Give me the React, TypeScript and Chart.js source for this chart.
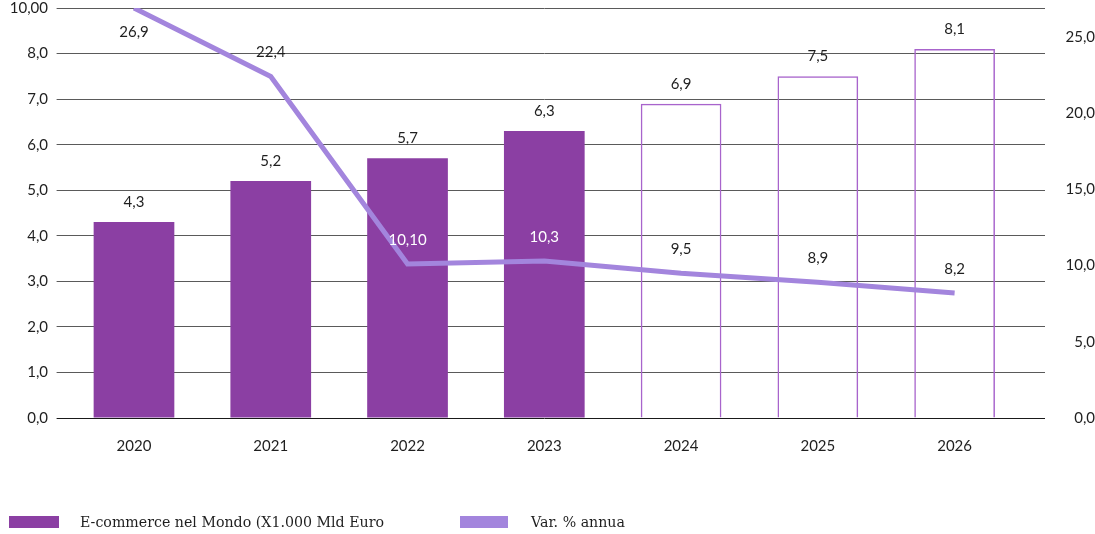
import React, { useEffect, useRef } from "react";
import { Chart, registerables } from "chart.js";

Chart.register(...registerables);

const CATEGORIES = ["2020", "2021", "2022", "2023", "2024", "2025", "2026"];
const ECOMMERCE = [4.3, 5.2, 5.7, 6.3, 6.9, 7.5, 8.1];
const ECOMMERCE_LABELS = ["4,3", "5,2", "5,7", "6,3", "6,9", "7,5", "8,1"];
const ECOMMERCE_FORECAST = [false, false, false, false, true, true, true];
const VAR_ANNUA = [26.9, 22.4, 10.1, 10.3, 9.5, 8.9, 8.2];
const VAR_LABELS = ["26,9", "22,4", "10,10", "10,3", "9,5", "8,9", "8,2"];
const VAR_LABEL_BELOW = [true, false, false, false, false, false, false];
const LEFT_TICKS = ["0,0", "1,0", "2,0", "3,0", "4,0", "5,0", "6,0", "7,0", "8,0", "10,00"];
const LEFT_MAX = 9;
const RIGHT_MAX = 26.9;
const RIGHT_STEP = 5;

const BAR_COLOR = "#8B3FA3";
const BAR_OUTLINE = "#A864CC";
const LINE_COLOR = "#A385DD";
const GRID_COLOR = "#5a5a5a";
const ZERO_COLOR = "#1a1a1a";
const TEXT_COLOR = "#1f1f1f";
const FONT_FAMILY = "Lato, 'Open Sans', sans-serif";

const alignPx = (p: number, w: number) => {
  const h = w / 2;
  return Math.round(p - h) + h;
};

const gridExtend = {
  id: "gridExtend",
  beforeDatasetsDraw(chart: any) {
    const { ctx, chartArea, scales } = chart;
    const y = scales.y;
    ctx.save();
    ctx.lineWidth = 1;
    y.ticks.forEach((t: any) => {
      const py = alignPx(y.getPixelForValue(t.value), 1);
      ctx.strokeStyle = t.value === 0 ? ZERO_COLOR : GRID_COLOR;
      ctx.beginPath();
      ctx.moveTo(chartArea.right, py);
      ctx.lineTo(chartArea.right + 22, py);
      ctx.stroke();
    });
    ctx.restore();
  },
};

const valueLabels = {
  id: "valueLabels",
  afterDatasetsDraw(chart: any) {
    const { ctx } = chart;
    const barMeta = chart.getDatasetMeta(0);
    const lineMeta = chart.getDatasetMeta(1);
    ctx.save();
    ctx.font = `15px ${FONT_FAMILY}`;
    ctx.textAlign = "center";
    ctx.textBaseline = "middle";
    barMeta.data.forEach((el: any, i: number) => {
      ctx.fillStyle = TEXT_COLOR;
      ctx.fillText(ECOMMERCE_LABELS[i], el.x, el.y - 20);
    });
    lineMeta.data.forEach((el: any, i: number) => {
      const ly = VAR_LABEL_BELOW[i] ? el.y + 24 : el.y - 24;
      const bar = barMeta.data[i];
      const insideFilled = !ECOMMERCE_FORECAST[i] && ly > bar.y + 8;
      ctx.fillStyle = insideFilled ? "#ffffff" : TEXT_COLOR;
      ctx.fillText(VAR_LABELS[i], el.x, ly);
    });
    ctx.restore();
  },
};

export default function App() {
  const canvasRef = useRef<HTMLCanvasElement | null>(null);

  useEffect(() => {
    if (!canvasRef.current) return;
    const chart = new Chart(canvasRef.current, {
      type: "bar",
      data: {
        labels: CATEGORIES,
        datasets: [
          {
            type: "bar",
            label: "E-commerce nel Mondo (X1.000 Mld Euro",
            data: ECOMMERCE,
            yAxisID: "y",
            backgroundColor: ECOMMERCE_FORECAST.map((f) => (f ? "rgba(0,0,0,0)" : BAR_COLOR)),
            borderColor: ECOMMERCE_FORECAST.map((f) => (f ? BAR_OUTLINE : BAR_COLOR)),
            borderWidth: ECOMMERCE_FORECAST.map((f) => (f ? 1.5 : 0)),
            barPercentage: 0.59,
            categoryPercentage: 1,
            order: 2,
          } as any,
          {
            type: "line",
            label: "Var. % annua",
            data: VAR_ANNUA,
            yAxisID: "y1",
            borderColor: LINE_COLOR,
            backgroundColor: LINE_COLOR,
            borderWidth: 5,
            pointRadius: 0,
            tension: 0,
            borderCapStyle: "butt",
            borderJoinStyle: "miter",
            order: 1,
          } as any,
        ],
      },
      options: {
        animation: false,
        responsive: true,
        maintainAspectRatio: false,
        layout: { padding: { top: 0, bottom: 0, left: 0, right: 0 } },
        plugins: {
          legend: { display: false },
          tooltip: { enabled: false },
        },
        scales: {
          x: {
            grid: { display: false, drawTicks: false },
            border: { display: false },
            ticks: {
              color: TEXT_COLOR,
              font: { family: FONT_FAMILY, size: 15, lineHeight: 1.2 },
              padding: 19,
            },
            afterFit(scale: any) {
              scale.height = 116;
            },
          },
          y: {
            position: "left",
            min: 0,
            max: LEFT_MAX,
            grid: {
              color: (c: any) => (c.tick && c.tick.value === 0 ? ZERO_COLOR : GRID_COLOR),
              lineWidth: 1,
              drawTicks: true,
              tickLength: 9,
            },
            border: { display: false },
            ticks: {
              stepSize: 1,
              padding: 8.6,
              color: TEXT_COLOR,
              font: { family: FONT_FAMILY, size: 15, lineHeight: 1.0667 },
              callback: (_v: any, i: number) => LEFT_TICKS[i],
            },
            afterFit(scale: any) {
              scale.width = 65.6;
              scale.paddingTop = 8;
              scale.paddingBottom = 0;
            },
          },
          y1: {
            position: "right",
            min: 0,
            max: RIGHT_MAX,
            grid: { display: false, drawTicks: false },
            border: { display: false },
            ticks: {
              stepSize: RIGHT_STEP,
              includeBounds: false,
              padding: 37,
              crossAlign: "far",
              color: TEXT_COLOR,
              font: { family: FONT_FAMILY, size: 15, lineHeight: 1.0667 },
              callback: (v: any) => Number(v).toFixed(1).replace(".", ","),
            },
            afterFit(scale: any) {
              scale.width = 72;
              scale.paddingTop = 8;
              scale.paddingBottom = 0;
            },
          },
        },
      } as any,
      plugins: [gridExtend, valueLabels],
    });
    return () => chart.destroy();
  }, []);

  const legendText: React.CSSProperties = {
    position: "absolute",
    top: 522,
    transform: "translateY(-50%)",
    fontFamily: "'DejaVu Serif', serif",
    fontSize: 14.2,
    color: TEXT_COLOR,
    whiteSpace: "nowrap",
  };
  const box = (left: number, width: number, color: string): React.CSSProperties => ({
    position: "absolute",
    left,
    top: 516,
    width,
    height: 12,
    background: color,
  });

  return (
    <div style={{ position: "fixed", left: 0, top: 0, width: 1095, height: 534, background: "#fff" }}>
      <canvas ref={canvasRef} />
      <div style={box(9, 50, BAR_COLOR)} />
      <div style={{ ...legendText, left: 80 }}>E-commerce nel Mondo (X1.000 Mld Euro</div>
      <div style={box(460, 48, LINE_COLOR)} />
      <div style={{ ...legendText, left: 531 }}>Var. % annua</div>
    </div>
  );
}
